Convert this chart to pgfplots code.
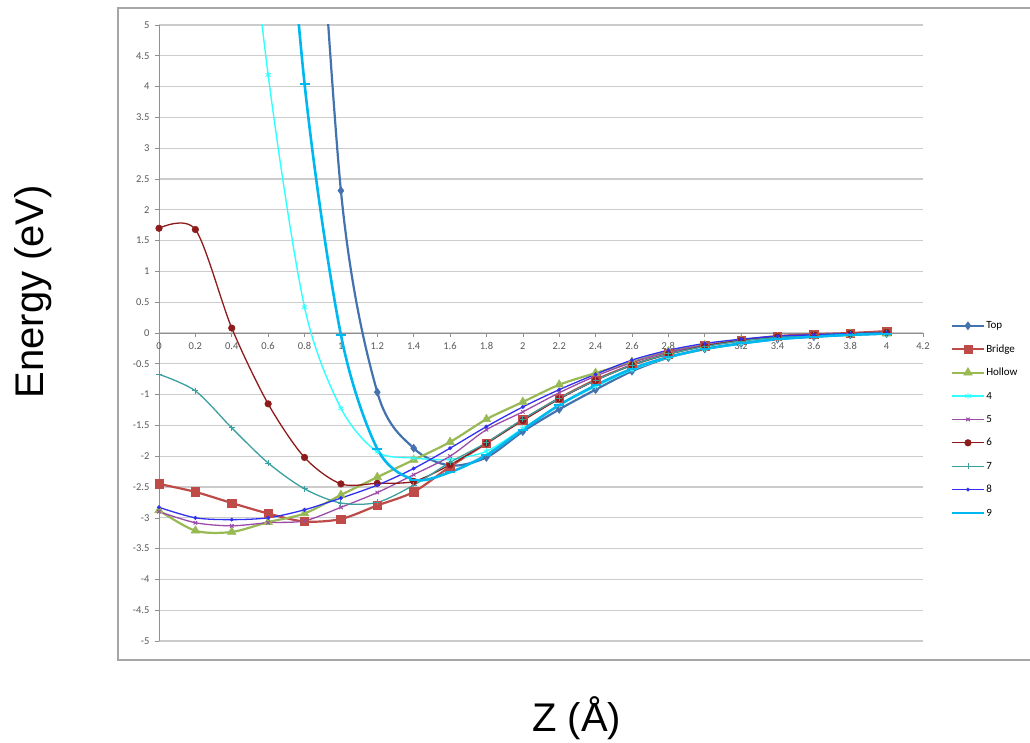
\documentclass[border=0pt]{standalone}
\usepackage{fontspec}
\setmainfont{Liberation Sans}
\newfontfamily\calibri{Carlito}
\usepackage{pgfplots}
\pgfplotsset{compat=1.18}
\usetikzlibrary{plotmarks}
\definecolor{topblue}{HTML}{4472AE}
\definecolor{bridgered}{HTML}{BE4B48}
\definecolor{hollowgreen}{HTML}{98B954}
\definecolor{sfour}{HTML}{30FFFF}
\definecolor{sfive}{HTML}{9C4BA8}
\definecolor{ssix}{HTML}{8E1B1B}
\definecolor{sseven}{HTML}{3AA0A0}
\definecolor{seight}{HTML}{3030F0}
\definecolor{snine}{HTML}{00B8F0}
\definecolor{gridgray}{HTML}{CCCCCC}
\definecolor{axisgray}{HTML}{909090}
\definecolor{labgray}{HTML}{595959}
\begin{document}
\begin{tikzpicture}[x=1pt,y=1pt]
\path[use as bounding box] (0,0) rectangle (1030,742);
\draw[color=axisgray!80, line width=1.2pt] (1040,82) -- (118,82) -- (118,734) -- (1040,734);
\begin{axis}[
  at={(159pt,101pt)}, anchor=south west,
  width=764pt, height=616pt, scale only axis,
  xmin=0, xmax=4.2, ymin=-5, ymax=5,
  axis x line=middle, axis y line=left,
  axis line style={draw=axisgray, line width=0.8pt, -},
  hide obscured x ticks=false, hide obscured y ticks=false,
  xtick={0,0.2,0.4,0.6,0.8,1,1.2,1.4,1.6,1.8,2,2.2,2.4,2.6,2.8,3,3.2,3.4,3.6,3.8,4,4.2},
  xticklabels={0,0.2,0.4,0.6,0.8,1,1.2,1.4,1.6,1.8,2,2.2,2.4,2.6,2.8,3,3.2,3.4,3.6,3.8,4,4.2},
  ytick={-5,-4.5,-4,-3.5,-3,-2.5,-2,-1.5,-1,-0.5,0,0.5,1,1.5,2,2.5,3,3.5,4,4.5,5},
  yticklabels={-5,-4.5,-4,-3.5,-3,-2.5,-2,-1.5,-1,-0.5,0,0.5,1,1.5,2,2.5,3,3.5,4,4.5,5},
  tick align=outside, major tick length=4pt,
  tick style={draw=axisgray, line width=0.6pt},
  ymajorgrids, grid style={draw=gridgray, line width=1.2pt},
  tick label style={font=\calibri\fontsize{10.5}{12}\selectfont, text=labgray},
  xticklabel style={yshift=-2pt},
  yticklabel style={xshift=-2pt},
  xlabel={Z (Å)}, ylabel={Energy (eV)},
  xlabel style={at={(rel axis cs:0.547,-0.125)}, anchor=center, font=\fontsize{40}{44}\selectfont},
  ylabel style={at={(rel axis cs:-0.165,0.567)}, anchor=center, rotate=0, font=\fontsize{40}{44}\selectfont},
  legend style={at={(rel axis cs:1.032,0.525)}, anchor=north west, draw=none, fill=none,
    font=\calibri\fontsize{11}{12}\selectfont, row sep=11.4pt,
    nodes={inner sep=1pt, text height=8pt, text depth=2pt}},
  legend cell align=left,
  legend image code/.code={\draw[mark repeat=2, mark phase=2, #1] plot coordinates {(0pt,0pt) (16pt,0pt) (32pt,0pt)};},
  every axis plot/.append style={smooth},
]
\addplot[color=topblue, line width=2.2pt, mark=diamond*, mark size=4pt, mark options={solid,line width=0.5pt}] coordinates {
(0.8,11) (1.0,2.31) (1.2,-0.96) (1.4,-1.87) (1.6,-2.15) (1.8,-2.02) (2.0,-1.6) (2.2,-1.24) (2.4,-0.92) (2.6,-0.62) (2.8,-0.4) (3.0,-0.26) (3.2,-0.17) (3.4,-0.1) (3.6,-0.06) (3.8,-0.03) (4.0,-0.01)};
\addlegendentry{Top}
\addplot[color=bridgered, line width=2.2pt, mark=square*, mark size=4.2pt, mark options={solid,line width=0.5pt}] coordinates {
(0,-2.45) (0.2,-2.58) (0.4,-2.76) (0.6,-2.93) (0.8,-3.06) (1.0,-3.02) (1.2,-2.8) (1.4,-2.58) (1.6,-2.17) (1.8,-1.79) (2.0,-1.41) (2.2,-1.06) (2.4,-0.76) (2.6,-0.52) (2.8,-0.34) (3.0,-0.21) (3.2,-0.12) (3.4,-0.05) (3.6,-0.02) (3.8,0.0) (4.0,0.03)};
\addlegendentry{Bridge}
\addplot[color=hollowgreen, line width=2.2pt, mark=triangle*, mark size=5pt, mark options={solid,line width=0.5pt}] coordinates {
(0,-2.88) (0.2,-3.21) (0.4,-3.23) (0.6,-3.07) (0.8,-2.93) (1.0,-2.63) (1.2,-2.34) (1.4,-2.06) (1.6,-1.77) (1.8,-1.4) (2.0,-1.12) (2.2,-0.84) (2.4,-0.65) (2.6,-0.47) (2.8,-0.3) (3.0,-0.2) (3.2,-0.12) (3.4,-0.07) (3.6,-0.04) (3.8,-0.02) (4.0,-0.01)};
\addlegendentry{Hollow}
\addplot[color=sfour, line width=1.4pt, mark=asterisk, mark size=3pt, mark options={solid,line width=0.8pt}] coordinates {
(0.4,9.5) (0.6,4.19) (0.8,0.42) (1.0,-1.22) (1.2,-1.93) (1.4,-2.03) (1.6,-2.05) (1.8,-1.92) (2.0,-1.55) (2.2,-1.17) (2.4,-0.87) (2.6,-0.6) (2.8,-0.4) (3.0,-0.26) (3.2,-0.17) (3.4,-0.1) (3.6,-0.06) (3.8,-0.03) (4.0,-0.01)};
\addlegendentry{4}
\addplot[color=sfive, line width=1.3pt, mark=x, mark size=2.5pt, mark options={solid,line width=1pt}] coordinates {
(0,-2.9) (0.2,-3.08) (0.4,-3.13) (0.6,-3.08) (0.8,-3.05) (1.0,-2.83) (1.2,-2.59) (1.4,-2.3) (1.6,-2.0) (1.8,-1.57) (2.0,-1.28) (2.2,-0.97) (2.4,-0.7) (2.6,-0.48) (2.8,-0.31) (3.0,-0.2) (3.2,-0.12) (3.4,-0.06) (3.6,-0.03) (3.8,-0.01) (4.0,0.0)};
\addlegendentry{5}
\addplot[color=ssix, line width=1.3pt, mark=*, mark size=3.3pt, mark options={solid,line width=0.5pt}] coordinates {
(0,1.7) (0.2,1.68) (0.4,0.08) (0.6,-1.15) (0.8,-2.02) (1.0,-2.45) (1.2,-2.44) (1.4,-2.41) (1.6,-2.14) (1.8,-1.79) (2.0,-1.42) (2.2,-1.07) (2.4,-0.77) (2.6,-0.52) (2.8,-0.34) (3.0,-0.21) (3.2,-0.12) (3.4,-0.06) (3.6,-0.03) (3.8,-0.01) (4.0,0.01)};
\addlegendentry{6}
\addplot[color=sseven, line width=1.3pt, mark=+, mark size=3pt, mark options={solid,line width=0.9pt}] coordinates {
(0,-0.67) (0.2,-0.94) (0.4,-1.54) (0.6,-2.11) (0.8,-2.53) (1.0,-2.76) (1.2,-2.75) (1.4,-2.47) (1.6,-2.1) (1.8,-1.78) (2.0,-1.4) (2.2,-1.06) (2.4,-0.77) (2.6,-0.52) (2.8,-0.34) (3.0,-0.22) (3.2,-0.13) (3.4,-0.07) (3.6,-0.03) (3.8,-0.01) (4.0,0.0)};
\addlegendentry{7}
\addplot[color=seight, line width=1.3pt, mark=*, mark size=1.8pt, mark options={solid,line width=0.4pt}] coordinates {
(0,-2.83) (0.2,-3.0) (0.4,-3.03) (0.6,-3.0) (0.8,-2.87) (1.0,-2.68) (1.2,-2.47) (1.4,-2.2) (1.6,-1.87) (1.8,-1.52) (2.0,-1.2) (2.2,-0.92) (2.4,-0.67) (2.6,-0.44) (2.8,-0.28) (3.0,-0.17) (3.2,-0.1) (3.4,-0.05) (3.6,-0.03) (3.8,-0.01) (4.0,0.0)};
\addlegendentry{8}
\addplot[color=snine, line width=2.6pt, mark=-, mark size=5pt, mark options={solid,line width=2pt}] coordinates {
(0.6,11) (0.8,4.05) (1.0,-0.03) (1.2,-1.88) (1.4,-2.38) (1.6,-2.26) (1.8,-1.98) (2.0,-1.57) (2.2,-1.17) (2.4,-0.85) (2.6,-0.58) (2.8,-0.39) (3.0,-0.26) (3.2,-0.17) (3.4,-0.1) (3.6,-0.06) (3.8,-0.03) (4.0,-0.01)};
\addlegendentry{9}
\end{axis}
\end{tikzpicture}
\end{document}
